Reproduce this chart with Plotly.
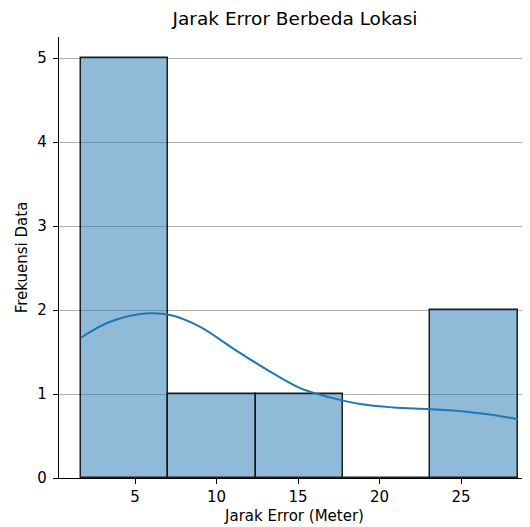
import plotly.graph_objects as go

# Histogram data (bins)
bin_start = 1.67
bin_width = 5.36
counts = [5, 1, 1, 0, 2]

# KDE curve
kde_x = [1.67, 3.47, 5.82, 7.15, 8.99, 11.03, 13.08, 15.12, 16.96, 18.8, 20.85, 23.1, 25.35, 26.98, 28.48]
kde_y = [1.67, 1.86, 1.96, 1.94, 1.80, 1.54, 1.29, 1.07, 0.96, 0.88, 0.84, 0.82, 0.79, 0.75, 0.70]

x_ticks = [5, 10, 15, 20, 25]
y_ticks = [0, 1, 2, 3, 4, 5]

centers = [bin_start + bin_width * (i + 0.5) for i in range(len(counts))]

FONT = "DejaVu Sans"
W, H = 522, 519  # page body has an 8px margin

fig = go.Figure()
fig.add_trace(go.Bar(
    x=centers, y=counts, width=bin_width,
    marker=dict(color="rgba(31,119,180,0.5)",
                line=dict(color="rgba(20,20,20,0.95)", width=1.5)),
    showlegend=False, hoverinfo="skip",
))
fig.add_trace(go.Scatter(
    x=kde_x, y=kde_y, mode="lines",
    line=dict(color="#1f77b4", width=2, shape="spline", smoothing=1.0),
    showlegend=False, hoverinfo="skip",
))

fig.update_layout(
    width=W, height=H,
    margin=dict(l=51, r=0, t=29, b=49),
    paper_bgcolor="white", plot_bgcolor="white",
    font=dict(family=FONT, size=15, color="black"),
    bargap=0,
    title=dict(text="Jarak Error Berbeda Lokasi", font=dict(family=FONT, size=18.5, color="black"),
               x=287 / W, xref="container", xanchor="center",
               y=1 - 11 / H, yref="container", yanchor="middle"),
)
fig.update_xaxes(
    range=[0.33, 29.23], tickvals=x_ticks, ticktext=[str(v) for v in x_ticks],
    showgrid=False, zeroline=False,
    showline=True, linecolor="black", linewidth=1.2,
    ticks="outside", ticklen=5, tickwidth=1.2, tickcolor="black",
    tickfont=dict(family=FONT, size=15, color="black"),
    title=dict(text="Jarak Error (Meter)", font=dict(family=FONT, size=15, color="black"), standoff=5),
    automargin=False,
)
fig.update_yaxes(
    range=[0, 5.25], tickvals=y_ticks, ticktext=[str(v) for v in y_ticks],
    showgrid=True, gridcolor="#b0b0b0", gridwidth=1, zeroline=False,
    showline=True, linecolor="black", linewidth=1.2,
    ticks="outside", ticklen=5, tickwidth=1.2, tickcolor="black",
    ticklabelstandoff=3,
    tickfont=dict(family=FONT, size=15, color="black"),
    title=dict(text="Frekuensi Data", font=dict(family=FONT, size=15, color="black"), standoff=6),
    layer="above traces",
    automargin=False,
)

fig.write_html("out.html")
